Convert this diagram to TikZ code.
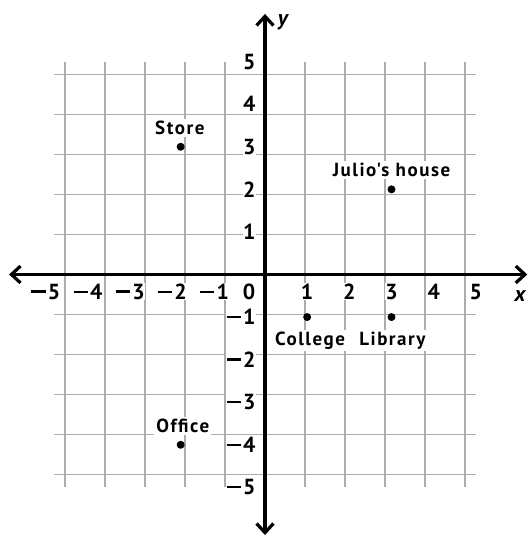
\documentclass[tikz,border=0pt]{standalone}
\usepackage{fontspec}
\setmainfont{PT Sans}
\newfontfamily\labelfont[LetterSpace=8]{PT Sans}
\usetikzlibrary{arrows.meta}
\newcommand{\mn}{\rule[0.30em]{0.66em}{0.11em}\kern0.1em}
\begin{document}
\begin{tikzpicture}[x=1.054cm, y=1.064cm,
    tick/.style={font=\fontsize{15.5}{17}\selectfont\bfseries, fill=white, inner sep=0.5pt},
    place/.style={font=\labelfont\fontsize{13.5}{15}\selectfont\bfseries, fill=white, inner sep=1.5pt},
    dot/.style={circle, fill=black, inner sep=0pt, minimum size=0.2cm},
    axis/.style={line width=2.3pt, {Straight Barb[length=6.5pt, width=12pt]}-{Straight Barb[length=6.5pt, width=12pt]}}]
    \useasboundingbox (-6.284,-6.143) rectangle (6.26,6.448);

    % cuadricula
    \draw[gray!65, line width=0.9pt] (-5,-5) grid (5,5);

    % numeros de los ejes
    \foreach \i in {1,...,5} {
        \node[tick] (xp\i) at (\i,-0.41) {\i};
        \node[tick] (xn\i) at (-\i,-0.41) {\llap{\mn}\i};
        \node[tick, anchor=east] (yp\i) at (-0.2,\i) {\i};
        \node[tick, anchor=east] (yn\i) at (-0.2,-\i) {\mn\i};
    }
    \node[tick] (o) at (-0.38,-0.41) {0};

    % ejes
    \coordinate (xl) at (-6.07,0);
    \coordinate (xr) at (6.22,0);
    \coordinate (yb) at (0,-6.12);
    \coordinate (yt) at (0,6.12);
    \draw[axis] (xl) -- (xr);
    \draw[axis] (yb) -- (yt);
    \node[tick, fill=none, font=\fontsize{15.5}{17}\selectfont\bfseries\itshape] (xlab) at (6.05,-0.5) {x};
    \node[tick, fill=none, font=\fontsize{15.5}{17}\selectfont\bfseries\itshape] (ylab) at (0.42,5.92) {y};

    % lugares
    \node[dot] (store) at (-2,3) {};
    \node[place] (storel) at (-2.02,3.44) {Store};
    \node[dot] (julio) at (3,2) {};
    \node[place] (juliol) at (3,2.45) {Julio's house};
    \node[dot] (college) at (1,-1) {};
    \node[place] (collegel) at (1.07,-1.55) {College};
    \node[dot] (library) at (3,-1) {};
    \node[place] (libraryl) at (3.02,-1.55) {Library};
    \node[dot] (office) at (-2,-4) {};
    \node[place] (officel) at (-1.95,-3.55) {Office};
\end{tikzpicture}
\end{document}
